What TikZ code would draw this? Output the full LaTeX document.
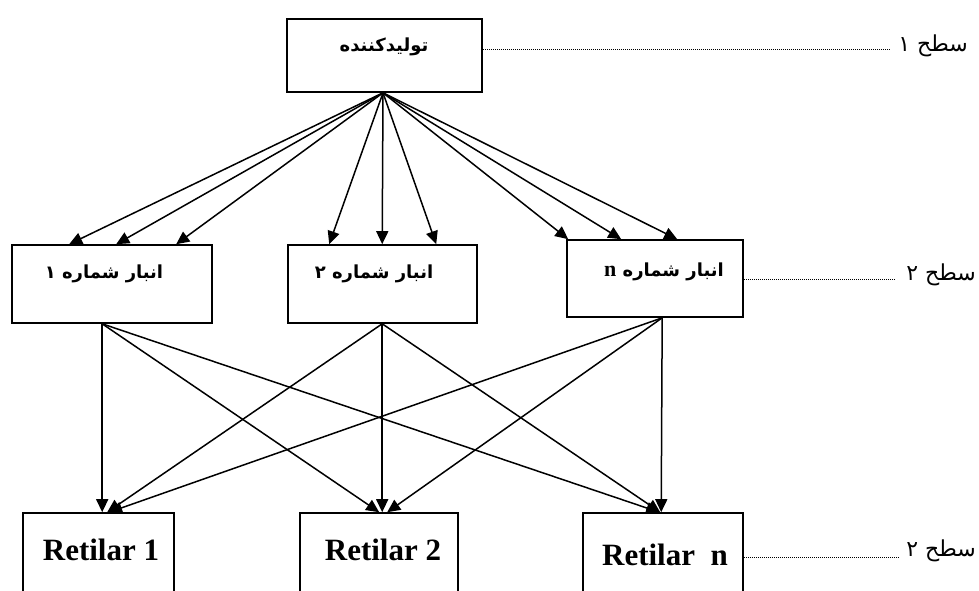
\documentclass[tikz,border=0pt]{standalone}
\usepackage{fontspec}
\setmainfont{Liberation Serif}
\newfontfamily\arabicfont[Script=Arabic]{DejaVu Sans}
\TeXXeTstate=1
\usetikzlibrary{arrows.meta}
\begin{document}
\begin{tikzpicture}[x=1pt,y=-1pt,
  box/.style={draw, line width=1.6pt, inner sep=0pt},
  arr/.style={line width=1.5pt, -{Triangle[length=13pt,width=12pt]}},
  dots/.style={line width=0.9pt, dash pattern=on 0.9pt off 1.1pt},
  fa/.style={font=\arabicfont\bfseries\fontsize{18}{22}\selectfont, inner sep=0pt},
  lvl/.style={font=\arabicfont\fontsize{22}{26}\selectfont, inner sep=0pt, anchor=east},
  ret/.style={font=\bfseries\fontsize{31}{36}\selectfont, inner sep=0pt}]
\useasboundingbox (0,0) rectangle (979,590);
\clip (0,0) rectangle (979,590);
\fill[white] (0,0) rectangle (979,590);

% boxes
\node[box, minimum width=195pt, minimum height=73pt] (top) at (384.5,55.5) {};
\node[box, minimum width=200pt, minimum height=78pt] (b1) at (112,284) {};
\node[box, minimum width=189pt, minimum height=78pt] (b2) at (382.5,284) {};
\node[box, minimum width=176pt, minimum height=77pt] (bn) at (655,278.5) {};
\node[box, minimum width=151pt, minimum height=90pt] (r1) at (98.5,558) {};
\node[box, minimum width=158pt, minimum height=90pt] (r2) at (379,558) {};
\node[box, minimum width=160pt, minimum height=90pt] (rn) at (663,558) {};

% texts
\node[fa] (t0) at (384,47) {\beginR تولیدکننده\endR};
\node[fa] (t1) at (104,274) {\beginR انبار شماره ۱\endR};
\node[fa] (t2) at (374,274) {\beginR انبار شماره ۲\endR};
\node[fa] (tn) at (664,272) {\beginR انبار شماره {\rmfamily\bfseries\fontsize{22}{26}\selectfont n}\endR};
\node[ret] (s1) at (101,550) {Retilar 1};
\node[ret] (s2) at (383,550) {Retilar 2};
\node[ret] (sn) at (665,555) {Retilar\ \ n};

% level labels
\node[lvl] (l1) at (968,46) {\beginR سطح ۱\endR};
\node[lvl] (l2) at (976,275) {\beginR سطح ۲\endR};
\node[lvl] (l3) at (976,551) {\beginR سطح ۲\endR};
\draw[dots] (top.east |- 0,49) -- ([xshift=-8pt]l1.west |- 0,49);
\draw[dots] (bn.east |- 0,279) -- ([xshift=-12pt]l2.west |- 0,279);
\draw[dots] (rn.east |- 0,557) -- ([xshift=-8pt]l3.west |- 0,557);

% arrows from producer
\draw[arr] ([xshift=-1.5pt]top.south) -- ([xshift=58pt]b1.north west);
\draw[arr] ([xshift=-1.5pt]top.south) -- ([xshift=105pt]b1.north west);
\draw[arr] ([xshift=-1.5pt]top.south) -- ([xshift=165pt]b1.north west);
\draw[arr] ([xshift=-1.5pt]top.south) -- ([xshift=42pt]b2.north west);
\draw[arr] ([xshift=-1.5pt]top.south) -- ([xshift=95pt]b2.north west);
\draw[arr] ([xshift=-1.5pt]top.south) -- ([xshift=149pt]b2.north west);
\draw[arr] ([xshift=-1.5pt]top.south) -- ([xshift=2pt]bn.north west);
\draw[arr] ([xshift=-1.5pt]top.south) -- ([xshift=55pt]bn.north west);
\draw[arr] ([xshift=-1.5pt]top.south) -- ([xshift=111pt]bn.north west);

% arrows from warehouses to retailers
\draw[arr] ([xshift=91pt]b1.south west) -- ([xshift=80pt]r1.north west);
\draw[arr] ([xshift=91pt]b1.south west) -- ([xshift=80pt]r2.north west);
\draw[arr] ([xshift=91pt]b1.south west) -- ([xshift=77pt]rn.north west);
\draw[arr] ([xshift=95pt]b2.south west) -- ([xshift=85pt]r1.north west);
\draw[arr] ([xshift=95pt]b2.south west) -- ([xshift=83pt]r2.north west);
\draw[arr] ([xshift=95pt]b2.south west) -- ([xshift=78pt]rn.north west);
\draw[arr] ([xshift=96pt]bn.south west) -- ([xshift=87pt]r1.north west);
\draw[arr] ([xshift=96pt]bn.south west) -- ([xshift=88pt]r2.north west);
\draw[arr] ([xshift=96pt]bn.south west) -- ([xshift=79pt]rn.north west);
\end{tikzpicture}
\end{document}
